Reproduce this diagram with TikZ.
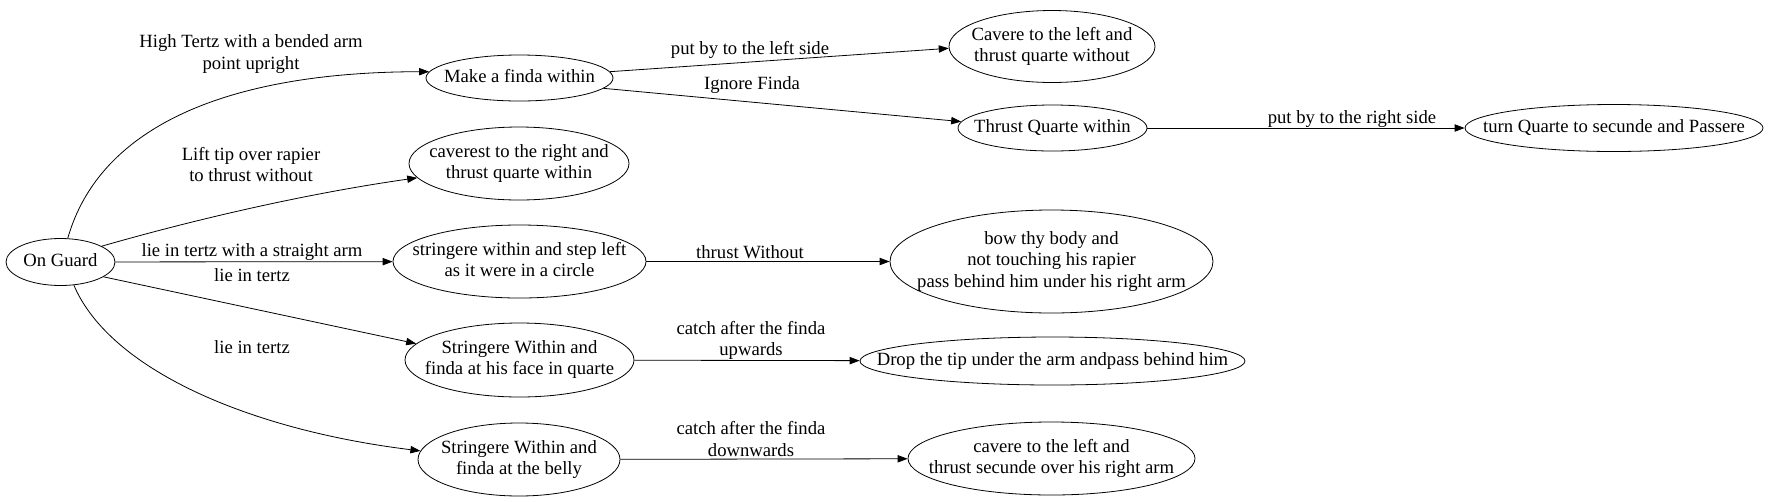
\documentclass[tikz,border=0pt]{standalone}
\usepackage{fontspec}
\setmainfont{Liberation Serif}
\usetikzlibrary{shapes.geometric,arrows.meta}
\newcommand\ztx[1]{\makebox[0pt]{\begin{tabular}{@{}c@{}}#1\end{tabular}}}
\begin{document}
\begin{tikzpicture}[x=0.75pt,y=-0.75pt,
  st/.style={ellipse, draw, line width=0.6pt, inner sep=0pt, font=\fontsize{14}{16}\selectfont},
  lbl/.style={inner sep=0pt, align=center, font=\fontsize{14}{16}\selectfont},
  ar/.style={-{Triangle[length=7.5pt,width=5.5pt]}, line width=0.6pt}]
\useasboundingbox (0,0) rectangle (1768,501);
% nodes
\node[st, minimum width=81.75pt, minimum height=35.25pt] (guard) at (60.5,262) {\ztx{On Guard}};
\node[st, minimum width=140.25pt, minimum height=34.5pt] (finda) at (519.5,78) {\ztx{Make a finda within}};
\node[st, minimum width=165pt, minimum height=54.75pt] (caverest) at (519,163.5) {\ztx{caverest to the right and\\thrust quarte within}};
\node[st, minimum width=189.75pt, minimum height=54.75pt] (stringl) at (519.5,261.5) {\ztx{stringere within and step left\\as it were in a circle}};
\node[st, minimum width=171.75pt, minimum height=55.5pt] (face) at (519.5,360) {\ztx{Stringere Within and\\finda at his face in quarte}};
\node[st, minimum width=151.5pt, minimum height=54.75pt] (belly) at (519,459.5) {\ztx{Stringere Within and\\finda at the belly}};
\node[st, minimum width=154.5pt, minimum height=54pt] (cavL) at (1052,46.5) {\ztx{Cavere to the left and\\thrust quarte without}};
\node[st, minimum width=141.75pt, minimum height=34.5pt] (tqw) at (1052.5,128) {\ztx{Thrust Quarte within}};
\node[st, minimum width=223.5pt, minimum height=35.25pt] (turnq) at (1614,128) {\ztx{turn Quarte to secunde and Passere}};
\node[st, minimum width=242.25pt, minimum height=77.25pt] (bow) at (1051.5,261.5) {\ztx{bow thy body and\\not touching his rapier\\pass behind him under his right arm}};
\node[st, minimum width=288.75pt, minimum height=36pt] (drop) at (1052.5,361) {\ztx{Drop the tip under the arm andpass behind him}};
\node[st, minimum width=215.25pt, minimum height=54.75pt] (cavS) at (1051.5,458.5) {\ztx{cavere to the left and\\thrust secunde over his right arm}};
% labels
\node[lbl] (l1) at (251,54) {High Tertz with a bended arm\\point upright};
\node[lbl] (l2) at (251,164.5) {Lift tip over rapier\\to thrust without};
\node[lbl] (l3) at (252,252.5) {lie in tertz with a straight arm};
\node[lbl] (l4) at (252,275) {lie in tertz};
\node[lbl] (l5) at (252,346.7) {lie in tertz};
\node[lbl] (l6) at (750,50) {put by to the left side};
\node[lbl] (l7) at (752,85) {Ignore Finda};
\node[lbl] (l8) at (1352,119.5) {put by to the right side};
\node[lbl] (l9) at (750,251.7) {thrust Without};
\node[lbl] (l10) at (751,340.3) {catch after the finda\\upwards};
\node[lbl] (l11) at (751,439) {catch after the finda\\downwards};
% edges
\draw[ar] (guard.73) .. controls (100,125) and (230,72) .. (finda.176);
\draw[ar] (guard.21) .. controls (200,218) and (310,193) .. (caverest.188);
\draw[ar] (guard) -- (stringl);
\draw[ar] (guard.-19) -- (face.171);
\draw[ar] (guard.-60) .. controls (110,370) and (250,430) .. (belly.175);
\draw[ar] (finda.4) -- (cavL.181);
\draw[ar] (finda.-7) -- (tqw.176);
\draw[ar] (tqw) -- (turnq);
\draw[ar] (stringl) -- (bow);
\draw[ar] (face) -- (drop);
\draw[ar] (belly) -- (cavS);
\end{tikzpicture}
\end{document}
